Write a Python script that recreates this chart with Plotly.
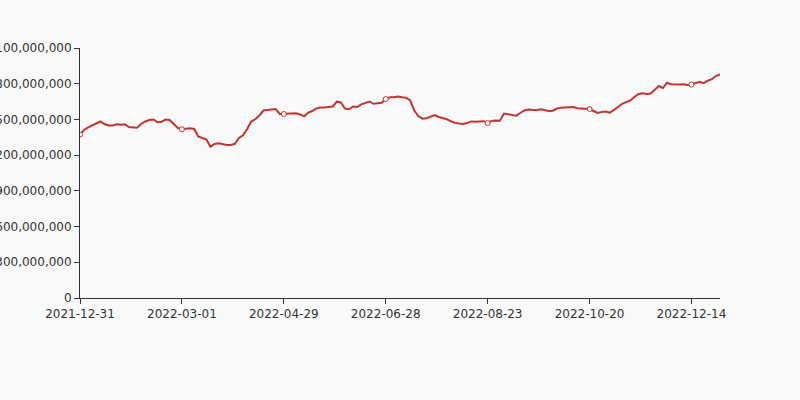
import plotly.graph_objects as go

# Tick labels (category dates shown on the x axis, every 25th point)
tick_labels = ["2021-12-31", "2022-03-01", "2022-04-29", "2022-06-28",
               "2022-08-23", "2022-10-20", "2022-12-14"]
label_step = 25

# Series values
values = [
    1373.4e6, 1411.2e6, 1433.9e6, 1449.0e6, 1465.8e6, 1482.6e6, 1461.6e6, 1449.0e6, 1449.0e6, 1459.1e6,
    1455.7e6, 1459.1e6, 1436.4e6, 1430.5e6, 1430.5e6, 1461.6e6, 1482.6e6, 1495.2e6, 1499.4e6, 1476.7e6,
    1480.9e6, 1499.4e6, 1495.2e6, 1461.6e6, 1428.0e6, 1417.1e6, 1423.8e6, 1426.3e6, 1419.6e6, 1356.6e6,
    1344.0e6, 1333.1e6, 1270.9e6, 1293.6e6, 1299.5e6, 1289.4e6, 1285.2e6, 1285.2e6, 1295.3e6, 1344.0e6,
    1366.7e6, 1419.6e6, 1482.6e6, 1501.1e6, 1533.0e6, 1575.0e6, 1578.4e6, 1585.1e6, 1587.6e6, 1545.6e6,
    1545.6e6, 1551.5e6, 1551.5e6, 1551.5e6, 1541.4e6, 1526.3e6, 1558.2e6, 1570.8e6, 1591.8e6, 1599.4e6,
    1600.2e6, 1601.9e6, 1608.6e6, 1648.9e6, 1642.2e6, 1591.8e6, 1585.1e6, 1608.6e6, 1604.4e6, 1627.1e6,
    1639.7e6, 1650.6e6, 1631.3e6, 1633.0e6, 1639.7e6, 1671.6e6, 1685.9e6, 1685.9e6, 1692.6e6, 1686.7e6,
    1682.5e6, 1659.0e6, 1575.0e6, 1528.8e6, 1506.1e6, 1509.5e6, 1524.6e6, 1537.2e6, 1520.4e6, 1512.0e6,
    1501.1e6, 1484.3e6, 1471.7e6, 1465.8e6, 1461.6e6, 1470.0e6, 1483.4e6, 1480.9e6, 1480.9e6, 1485.1e6,
    1470.0e6, 1486.8e6, 1491.0e6, 1489.3e6, 1549.8e6, 1543.1e6, 1538.9e6, 1531.3e6, 1554.0e6, 1575.0e6,
    1583.4e6, 1580.9e6, 1576.7e6, 1585.1e6, 1576.7e6, 1570.8e6, 1573.3e6, 1591.8e6, 1598.5e6, 1598.5e6,
    1601.0e6, 1604.4e6, 1594.3e6, 1593.5e6, 1591.0e6, 1587.6e6, 1570.8e6, 1554.0e6, 1563.2e6, 1566.6e6,
    1557.4e6, 1579.2e6, 1604.4e6, 1631.3e6, 1646.4e6, 1659.0e6, 1688.4e6, 1713.6e6, 1719.5e6, 1713.6e6,
    1717.8e6, 1745.5e6, 1780.8e6, 1764.0e6, 1807.7e6, 1795.1e6, 1790.9e6, 1792.6e6, 1795.1e6, 1789.2e6,
    1793.4e6, 1806.0e6, 1816.1e6, 1804.3e6, 1825.3e6, 1837.9e6, 1864.8e6, 1879.1e6,
]

x_idx = list(range(len(values)))
tick_idx = [i * label_step for i in range(len(tick_labels))]

RED = "#c23531"
AXIS = "#333333"
BG = "#f9f9f9"
FONT = "DejaVu Sans"

fig = go.Figure()
fig.add_trace(go.Scatter(
    x=x_idx, y=values, mode="lines",
    line=dict(color=RED, width=2),
    hoverinfo="skip", showlegend=False,
))
fig.add_trace(go.Scatter(
    x=tick_idx, y=[values[i] for i in tick_idx], mode="markers",
    marker=dict(symbol="circle", size=5, color="#ffffff",
                line=dict(color=RED, width=1)),
    hoverinfo="skip", showlegend=False,
))

fig.update_layout(
    width=800, height=400,
    margin=dict(l=80, r=80, t=48, b=102, pad=0),
    paper_bgcolor=BG, plot_bgcolor=BG,
    font=dict(family=FONT, size=12, color=AXIS),
    xaxis=dict(
        range=[0, len(values) - 1],
        tickmode="array", tickvals=tick_idx, ticktext=tick_labels,
        showgrid=False, zeroline=False, automargin=False,
        showline=True, linecolor=AXIS, linewidth=1,
        ticks="outside", ticklen=5, tickcolor=AXIS, tickwidth=1,
        tickfont=dict(family=FONT, size=12, color=AXIS),
        fixedrange=True,
    ),
    yaxis=dict(
        range=[0, 2.1e9], tickmode="linear", tick0=0, dtick=3e8,
        tickformat=",d",
        showgrid=False, zeroline=False, automargin=False,
        showline=True, linecolor=AXIS, linewidth=1,
        ticks="outside", ticklen=5, tickcolor=AXIS, tickwidth=1,
        tickfont=dict(family=FONT, size=12, color=AXIS),
        fixedrange=True,
    ),
)

fig.write_html("out.html", config={"displayModeBar": False})
